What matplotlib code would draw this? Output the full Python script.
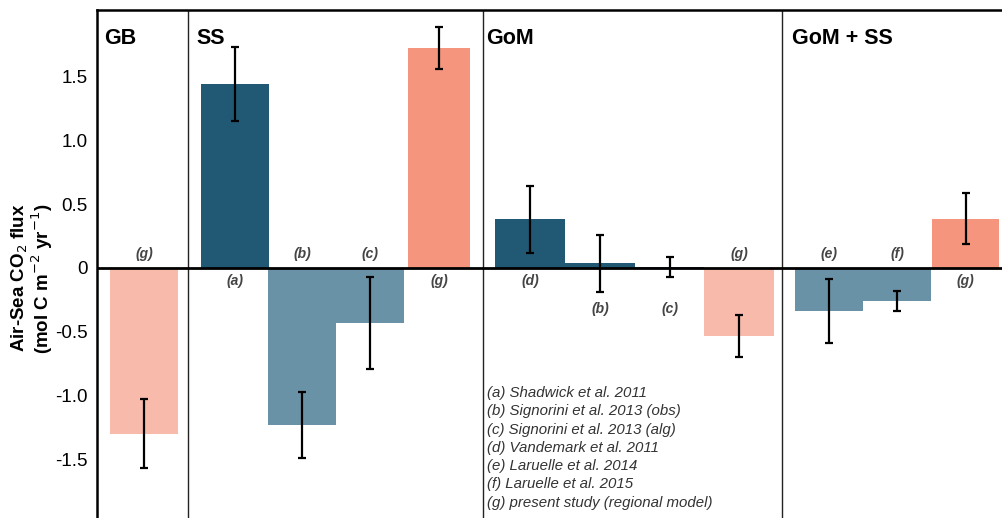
import matplotlib
matplotlib.use("Agg")
import matplotlib.pyplot as plt

plt.rcParams["font.family"] = ["Liberation Sans", "DejaVu Sans"]

# data: air-sea CO2 flux (mol C m-2 yr-1) per region and source
regions = ["GB", "SS", "GoM", "GoM + SS"]
gb_refs = ["g"]
gb_flux = [-1.30]
gb_err = [0.27]
ss_refs = ["a", "b", "c", "g"]
ss_flux = [1.44, -1.23, -0.43, 1.725]
ss_err = [0.29, 0.26, 0.36, 0.165]
gom_refs = ["d", "b", "c", "g"]
gom_flux = [0.38, 0.035, 0.006, -0.535]
gom_err = [0.265, 0.225, 0.08, 0.165]
gomss_refs = ["e", "f", "g"]
gomss_flux = [-0.34, -0.26, 0.386]
gomss_err = [0.25, 0.08, 0.2]
sources = ["(a) Shadwick et al. 2011",
           "(b) Signorini et al. 2013 (obs)",
           "(c) Signorini et al. 2013 (alg)",
           "(d) Vandemark et al. 2011",
           "(e) Laruelle et al. 2014",
           "(f) Laruelle et al. 2015",
           "(g) present study (regional model)"]
yticks = [1.5, 1.0, 0.5, 0, -0.5, -1.0, -1.5]
ytick_labels = ["1.5", "1.0", "0.5", "0", "-0.5", "-1.0", "-1.5"]

# layout (x in panel units), colours
DARK, STEEL, SALMON, PALE = "#215974", "#6a92a6", "#f6957e", "#f8baab"
groups = [
    (gb_refs, gb_flux, gb_err, [144], [68], [PALE], ["up"]),
    (ss_refs, ss_flux, ss_err, [235, 302, 370, 439], [68, 68, 68, 62],
     [DARK, STEEL, STEEL, SALMON], ["down", "up", "up", "down"]),
    (gom_refs, gom_flux, gom_err, [530, 600, 669.5, 739], [70, 70, 69, 70],
     [DARK, DARK, DARK, PALE], ["down", "down2", "down2", "up"]),
    (gomss_refs, gomss_flux, gomss_err, [829, 897, 965.5], [68, 68, 67],
     [STEEL, STEEL, SALMON], ["up", "up", "down"]),
]
dividers = [188, 483, 782]
title_x = [104, 196, 486, 792]

fig = plt.figure(figsize=(10.02, 5.18), dpi=100)
ax = fig.add_axes([97 / 1002, 0, 1 - 97 / 1002, 1 - 10 / 518])
ax.set_xlim(97, 1002)
ax.set_ylim(-1.96, 2.02)

for refs, flux, err, xs, ws, cols, lpos in groups:
    ax.bar(xs, flux, width=ws, color=cols, zorder=1)
    ax.errorbar(xs, flux, yerr=err, fmt="none", ecolor="black", elinewidth=1.6,
                capsize=3, capthick=1.6, zorder=3)
    for x, r, v, p in zip(xs, refs, flux, lpos):
        if p == "up":
            y, va = 0.05, "bottom"
        elif p == "down":
            y, va = -0.05, "top"
        else:
            y, va = -0.27, "top"
        ax.text(x, y, f"({r})", ha="center", va=va, fontsize=10,
                fontweight="bold", style="italic", color="#444444")

ax.axhline(0, color="black", lw=2, zorder=4)
for d in dividers:
    ax.axvline(d, color="#222222", lw=1)

for name, x in zip(regions, title_x):
    ax.text(x, 1.80, name, ha="left", va="center", fontsize=15.5, fontweight="bold")

for i, s in enumerate(sources):
    ax.text(487, -0.98 - i * 0.1435, s, ha="left", va="center", fontsize=10.8,
            style="italic", color="#333333")

ax.set_yticks(yticks)
ax.set_yticklabels(ytick_labels, fontsize=13.5)
ax.tick_params(axis="y", length=0, pad=7)
ax.set_xticks([])
for side in ["right", "bottom"]:
    ax.spines[side].set_visible(False)
ax.spines["left"].set_linewidth(1.8)
ax.spines["top"].set_linewidth(1.8)
ax.set_ylabel("Air-Sea CO$_2$ flux\n(mol C m$^{-2}$ yr$^{-1}$)", fontsize=13.5,
              fontweight="bold", linespacing=1.0)
ax.yaxis.set_label_coords(-0.046, 0.472)

fig.savefig("out.png", dpi=100)
